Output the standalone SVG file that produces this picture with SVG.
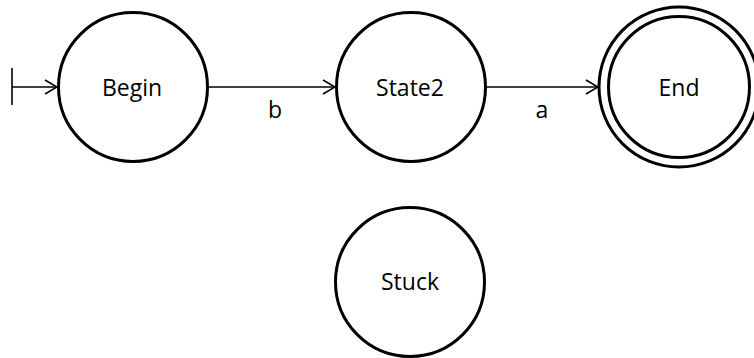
<svg xmlns="http://www.w3.org/2000/svg" width="754" height="358" viewBox="0 0 754 358">
  <defs>
    <style>
      .state { fill: #ffffff; stroke: #000000; stroke-width: 3; }
      .label { font-family: "Open Sans", "Noto Sans", "Liberation Sans", sans-serif; font-size: 23px; fill: #000000; text-anchor: middle; }
      .edge { fill: none; stroke: #000000; stroke-width: 1.6; }
    </style>
    <marker id="open-arrow" viewBox="0 0 14 16" refX="13" refY="8" markerWidth="14" markerHeight="16" markerUnits="userSpaceOnUse" orient="auto">
      <path d="M1,1 L13,8 L1,15" fill="none" stroke="#000000" stroke-width="1.6"/>
    </marker>
  </defs>

  <!-- transitions -->
  <g id="connectors">
    <line class="edge" x1="12" y1="68" x2="12" y2="105"/>
    <line class="edge" x1="12" y1="87" x2="57" y2="87" marker-end="url(#open-arrow)"/>
    <line class="edge" x1="208" y1="87" x2="335" y2="87" marker-end="url(#open-arrow)"/>
    <text class="label" x="275" y="118">b</text>
    <line class="edge" x1="486" y1="87" x2="598" y2="87" marker-end="url(#open-arrow)"/>
    <text class="label" x="542" y="118">a</text>
  </g>

  <g id="begin">
    <circle class="state" cx="133" cy="87" r="74.5"/>
    <text class="label" x="132" y="96">Begin</text>
  </g>

  <g id="state2">
    <circle class="state" cx="411" cy="87" r="74.5"/>
    <text class="label" x="410" y="96">State2</text>
  </g>

  <g id="end">
    <circle class="state" cx="679" cy="87" r="80"/>
    <circle class="state" cx="679" cy="87" r="70.5"/>
    <text class="label" x="679" y="96">End</text>
  </g>

  <g id="stuck">
    <circle class="state" cx="410" cy="282" r="74.5"/>
    <text class="label" x="410" y="290">Stuck</text>
  </g>
</svg>
